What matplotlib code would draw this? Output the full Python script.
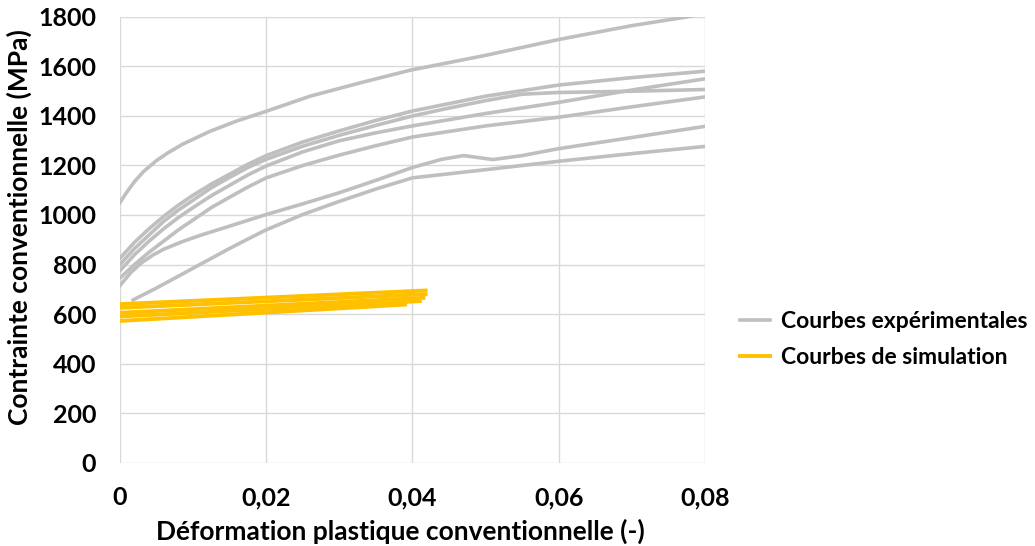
import numpy as np
import matplotlib
matplotlib.use("Agg")
import matplotlib.pyplot as plt

plt.rcParams['font.family'] = ['Lato', 'DejaVu Sans']
plt.rcParams['font.weight'] = 'bold'
plt.rcParams['axes.labelweight'] = 'bold'

exp_a_x = [0, 0.001, 0.002, 0.0032, 0.005, 0.0065, 0.0085, 0.0123, 0.016, 0.02, 0.026, 0.033, 0.0397, 0.05, 0.06, 0.07, 0.0775, 0.08]
exp_a_y = [1050, 1095, 1135, 1175, 1220, 1250, 1285, 1338, 1380, 1419, 1480, 1535, 1585, 1645, 1709, 1765, 1800, 1815]

exp_b_x = [0, 0.002, 0.004, 0.006, 0.008, 0.01, 0.0125, 0.015, 0.0175, 0.02, 0.025, 0.03, 0.035, 0.04, 0.05, 0.06, 0.07, 0.08]
exp_b_y = [825, 890, 945, 995, 1040, 1080, 1125, 1165, 1205, 1240, 1295, 1340, 1382, 1420, 1480, 1525, 1555, 1581]

exp_c_x = [0, 0.002, 0.004, 0.006, 0.008, 0.01, 0.0125, 0.015, 0.0175, 0.02, 0.025, 0.03, 0.035, 0.04, 0.045, 0.05, 0.055, 0.06, 0.07, 0.08]
exp_c_y = [800, 865, 920, 975, 1020, 1060, 1110, 1152, 1192, 1225, 1278, 1322, 1362, 1400, 1432, 1462, 1488, 1495, 1500, 1507]

exp_d_x = [0, 0.002, 0.004, 0.006, 0.008, 0.01, 0.0125, 0.015, 0.0175, 0.02, 0.025, 0.03, 0.035, 0.04, 0.05, 0.06, 0.07, 0.08]
exp_d_y = [775, 840, 895, 945, 990, 1030, 1078, 1120, 1162, 1198, 1255, 1300, 1332, 1360, 1410, 1455, 1505, 1550]

exp_e_x = [0, 0.002, 0.004, 0.006, 0.008, 0.01, 0.0125, 0.015, 0.0175, 0.02, 0.025, 0.03, 0.035, 0.04, 0.05, 0.06, 0.07, 0.08]
exp_e_y = [745, 800, 850, 895, 940, 980, 1030, 1072, 1113, 1150, 1200, 1242, 1280, 1315, 1360, 1395, 1437, 1477]

exp_f_x = [0, 0.0015, 0.003, 0.0045, 0.006, 0.0085, 0.011, 0.015, 0.02, 0.025, 0.03, 0.035, 0.04, 0.044, 0.047, 0.049, 0.051, 0.055, 0.06, 0.07, 0.08]
exp_f_y = [715, 768, 808, 838, 862, 892, 918, 955, 1002, 1045, 1090, 1140, 1192, 1225, 1240, 1232, 1224, 1240, 1268, 1313, 1358]

exp_g_x = [0.0018, 0.005, 0.0075, 0.01, 0.0125, 0.015, 0.0175, 0.02, 0.025, 0.03, 0.035, 0.04, 0.05, 0.06, 0.07, 0.08]
exp_g_y = [657, 705, 745, 785, 825, 865, 903, 940, 1002, 1055, 1105, 1150, 1183, 1217, 1248, 1277]

# simulation curves: start and end points
sim_x = [[0, 0.0418], [0, 0.0418], [0, 0.0415], [0, 0.041], [0, 0.039]]
sim_y = [[640, 695], [625, 680], [605, 665], [590, 652], [572, 638]]

grey = '#bfbfbf'
gold = '#ffc000'

fig = plt.figure(figsize=(10.35, 5.46), dpi=100)
ax = fig.add_axes([0.1159, 0.1529, 0.5652, 0.816])

exp_curves = [(exp_a_x, exp_a_y), (exp_b_x, exp_b_y), (exp_c_x, exp_c_y),
              (exp_d_x, exp_d_y), (exp_e_x, exp_e_y), (exp_f_x, exp_f_y),
              (exp_g_x, exp_g_y)]
for i, (xs, ys) in enumerate(exp_curves):
    ax.plot(xs, ys, color=grey, linewidth=2.6, solid_joinstyle='round',
            label='Courbes expérimentales' if i == 0 else None, zorder=3)

for i, (xs, ys) in enumerate(zip(sim_x, sim_y)):
    ax.plot(xs, ys, color=gold, linewidth=2.8,
            label='Courbes de simulation' if i == 0 else None, zorder=4)

ax.set_xlim(0, 0.08)
ax.set_ylim(0, 1800)
ax.set_xticks([0, 0.02, 0.04, 0.06, 0.08])
ax.set_xticklabels(['0', '0,02', '0,04', '0,06', '0,08'])
ax.set_yticks(np.arange(0, 1801, 200))
ax.grid(True, color='#d9d9d9', linewidth=1.0, zorder=0)
ax.set_axisbelow(True)
for s in ax.spines.values():
    s.set_visible(False)
ax.tick_params(length=0, labelsize=18)
ax.tick_params(axis='y', pad=17)
ax.tick_params(axis='x', pad=17)
for lab in ax.get_xticklabels() + ax.get_yticklabels():
    lab.set_fontweight('bold')

ax.set_xlabel('Déformation plastique conventionnelle (-)', fontsize=19, fontweight='bold')
ax.set_ylabel('Contrainte conventionnelle (MPa)', fontsize=19, fontweight='bold')
ax.xaxis.set_label_coords(0.48, -0.125)
ax.yaxis.set_label_coords(-0.15, 0.528)

leg = ax.legend(loc='center left', bbox_to_anchor=(1.06, 0.277), frameon=False,
                prop={'size': 16.5, 'weight': 'bold'}, handlelength=1.3,
                handletextpad=0.5, labelspacing=0.65, borderaxespad=0, borderpad=0)
for t in leg.get_texts():
    t.set_fontweight('bold')

fig.savefig('out.png', dpi=100)
